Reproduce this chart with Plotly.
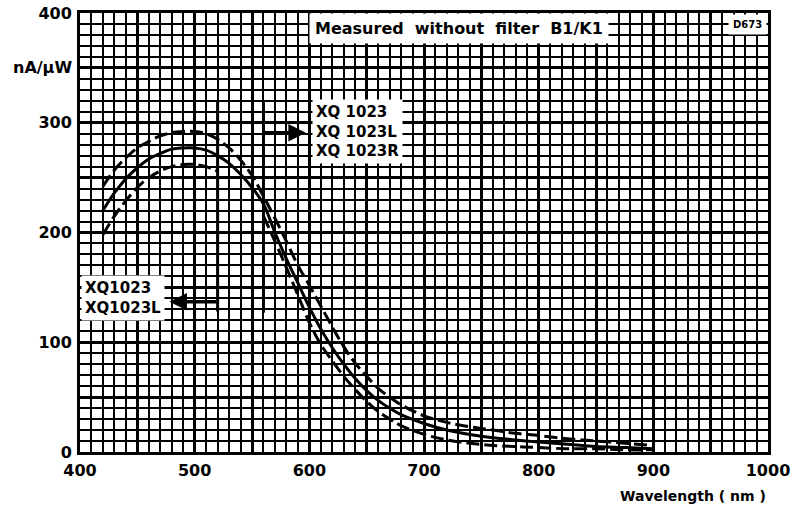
import plotly.graph_objects as go

# Spectral sensitivity (nm -> nA/uW)
wl_full = [420, 430, 440, 450, 460, 470, 480, 490, 500, 510, 520, 530, 540, 550,
           560, 570, 580, 590, 600, 610, 620, 630, 640, 650, 660, 670, 680, 700,
           720, 740, 760, 780, 800, 825, 850, 875, 900]
upper = [242, 257, 268, 277, 283, 288, 291, 292, 292, 290, 285, 277, 266, 252,
         233, 213, 192, 170, 152, 133, 114, 96, 81, 69, 58, 50, 43, 33,
         27, 23, 20, 17, 15, 12, 10, 8, 6]
typical = [220, 236, 249, 259, 267, 272, 276, 277, 277, 275, 270, 263, 253, 241,
           226, 200, 176, 154, 132, 112, 95, 80, 67, 56, 47, 40, 34, 26,
           20, 16, 13, 11, 9, 7, 5, 4, 3]
wl_low_left = [420, 430, 440, 450, 460, 470, 480, 490, 500, 510, 520]
lower_left = [198, 215, 229, 241, 250, 256, 260, 262, 262, 260, 256]
wl_low_right = [560, 570, 580, 590, 600, 610, 620, 630, 640, 650, 660, 670, 680,
                700, 720, 740, 760, 780, 800, 825, 850, 875, 900]
lower_right = [215, 192, 168, 143, 118, 98, 83, 69, 57, 46, 37, 30, 24,
               16, 11, 8, 6, 5, 4, 3, 3, 2, 2]

x_ticks = list(range(400, 1001, 50))
x_labels = [str(v) if v % 100 == 0 else "" for v in x_ticks]
y_ticks = list(range(0, 401, 50))
y_labels = [str(v) if v % 100 == 0 else "" for v in y_ticks]

FONT = "DejaVu Sans"
dash = "13px,5px"

fig = go.Figure()
fig.add_trace(go.Scatter(x=wl_full, y=upper, mode="lines", line=dict(color="black", width=3, dash=dash, shape="spline")))
fig.add_trace(go.Scatter(x=wl_full, y=typical, mode="lines", line=dict(color="black", width=3, shape="spline")))
fig.add_trace(go.Scatter(x=wl_low_left, y=lower_left, mode="lines", line=dict(color="black", width=3, dash=dash, shape="spline")))
fig.add_trace(go.Scatter(x=wl_low_right, y=lower_right, mode="lines", line=dict(color="black", width=3, dash=dash, shape="spline")))

# range markers
fig.add_shape(type="line", x0=520, x1=520, y0=128, y1=320, line=dict(color="black", width=3))
fig.add_shape(type="line", x0=560, x1=560, y0=127, y1=320, line=dict(color="black", width=3))

fig.add_annotation(x=478, y=137, ax=520, ay=137, axref="x", ayref="y", text="", showarrow=True,
                   arrowhead=2, arrowsize=1.0, arrowwidth=3.5, arrowcolor="black")
fig.add_annotation(x=597, y=291, ax=560, ay=291, axref="x", ayref="y", text="", showarrow=True,
                   arrowhead=2, arrowsize=1.0, arrowwidth=3.5, arrowcolor="black")

fig.add_annotation(x=400.5, y=140, xanchor="left", yanchor="middle", showarrow=False,
                   text="XQ1023<br>XQ1023L", align="left", bgcolor="white", borderpad=3,
                   font=dict(family=FONT, size=15, color="black", weight="bold"))
fig.add_annotation(x=602, y=292, xanchor="left", yanchor="middle", showarrow=False,
                   text="XQ 1023<br>XQ 1023L<br>XQ 1023R", align="left", bgcolor="white", borderpad=3,
                   font=dict(family=FONT, size=15, color="black", weight="bold"))
fig.add_annotation(x=600, y=400, xanchor="left", yanchor="top", showarrow=False,
                   text="Measured  without  filter  B1/K1", bgcolor="white", borderpad=5,
                   font=dict(family=FONT, size=16, color="black", weight="bold"))
fig.add_annotation(x=0.998, y=0.997, xref="paper", yref="paper", xanchor="right", yanchor="top",
                   showarrow=False, text="D673", bgcolor="white", borderpad=4,
                   font=dict(family=FONT, size=10, color="black", weight="bold"))
fig.add_annotation(x=-0.008, y=350, xref="paper", xanchor="right", yanchor="middle", showarrow=False,
                   text="nA/µW", font=dict(family=FONT, size=16, color="black", weight="bold"))
fig.add_annotation(x=1.0, y=-0.1, xref="paper", yref="paper", xanchor="right", yanchor="middle",
                   showarrow=False, text="Wavelength ( nm )",
                   font=dict(family=FONT, size=14, color="black", weight="bold"))

axis_common = dict(showline=True, linecolor="black", linewidth=3, mirror=True, automargin=False,
                   showgrid=True, gridcolor="black", gridwidth=3, zeroline=False, ticks="",
                   tickfont=dict(family=FONT, size=16, color="black", weight="bold"))

fig.update_layout(
    width=794, height=510,
    margin=dict(l=80, r=26, t=13, b=58),
    paper_bgcolor="white", plot_bgcolor="white",
    showlegend=False,
    xaxis=dict(range=[400, 1000], tickvals=x_ticks, ticktext=x_labels, ticklabelstandoff=2,
               minor=dict(dtick=10, showgrid=True, gridcolor="black", gridwidth=2),
               **axis_common),
    yaxis=dict(range=[0, 400], tickvals=y_ticks, ticktext=y_labels, ticklabelstandoff=2,
               minor=dict(dtick=10, showgrid=True, gridcolor="black", gridwidth=2),
               **axis_common),
)

# drop the default page margin so the figure sits at the window's corner
fig.write_html("out.html", config={"displayModeBar": False},
               post_script="document.body.style.margin='0';")
